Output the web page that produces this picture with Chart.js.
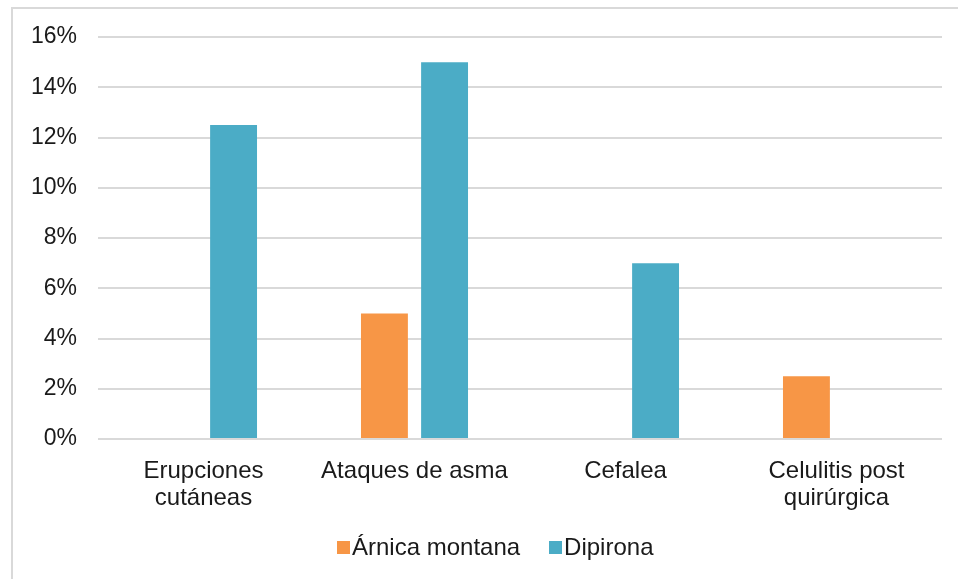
<!DOCTYPE html>
<html>
<head>
<meta charset="utf-8">
<script src="https://cdn.jsdelivr.net/npm/chart.js@4"></script>
<style>
  html, body { margin: 0; padding: 0; background: #fff; overflow: hidden; }
  #wrap { position: relative; width: 958px; height: 579px; font-family: "Liberation Sans", Arial, sans-serif; }
  #frame {
    position: absolute; left: 11px; top: 7px; width: 960px; height: 600px;
    border-left: 2px solid #D9D9D9; border-top: 2px solid #D9D9D9;
    pointer-events: none;
  }
  canvas { position: absolute; left: 0; top: 0; }
  #legend { position: absolute; left: 337px; top: 533px; font-size: 24px; line-height: 28px; color: #1a1a1a; white-space: nowrap; }
  #legend span.item { display: inline-block; }
  #legend span.item + span.item { margin-left: 29px; }
  #legend i { display: inline-block; width: 13px; height: 13px; margin-right: 2px; vertical-align: 1px; }
</style>
</head>
<body>
<div id="wrap">
  <canvas id="chart" width="958" height="579"></canvas>
  <div id="frame"></div>
  <div id="legend"></div>
</div>
<script>
const categories = [
    ['Erupciones', 'cutáneas'],
    'Ataques de asma',
    'Cefalea',
    ['Celulitis post', 'quirúrgica']
];
const seriesNames = ['Árnica montana', 'Dipirona'];
const arnicaValues = [0, 5, 0, 2.5];
const dipironaValues = [12.5, 15, 7, 0];
const yTicks = [0, 2, 4, 6, 8, 10, 12, 14, 16];
const seriesColors = ['#F79646', '#4BACC6'];

const font = { family: '"Liberation Sans", Arial, sans-serif', size: 24, lineHeight: 1.13 };
const yFont = { family: '"Liberation Sans", Arial, sans-serif', size: 23 };
const textColor = '#1a1a1a';
const gridColor = '#D9D9D9';

const chart = new Chart(document.getElementById('chart').getContext('2d'), {
    type: 'bar',
    data: {
        labels: categories,
        datasets: [
            {
                label: seriesNames[0],
                data: arnicaValues,
                backgroundColor: seriesColors[0],
                barPercentage: 0.78,
                categoryPercentage: 0.57,
            },
            {
                label: seriesNames[1],
                data: dipironaValues,
                backgroundColor: seriesColors[1],
                barPercentage: 0.78,
                categoryPercentage: 0.57,
            }
        ]
    },
    options: {
        responsive: false,
        animation: false,
        layout: { padding: { top: 37, right: 16, bottom: 55, left: 0 } },
        scales: {
            x: {
                grid: { display: false },
                border: { display: false },
                ticks: { color: textColor, font, padding: 11, maxRotation: 0, autoSkip: false },
                afterFit: scale => { scale.height = 85; }
            },
            y: {
                min: 0,
                max: 16,
                afterBuildTicks: scale => { scale.ticks = yTicks.map(v => ({ value: v })); },
                grid: { color: gridColor, lineWidth: 2, drawTicks: false },
                border: { display: false },
                ticks: { color: textColor, font: yFont, padding: 21, callback: v => v + '%' },
                afterFit: scale => { scale.width = 98; scale.paddingTop = 0; }
            }
        },
        plugins: {
            legend: { display: false },
            tooltip: { enabled: false }
        }
    }
});

// legend as plain html, built from the datasets
document.getElementById('legend').innerHTML = chart.data.datasets
    .map(ds => `<span class="item"><i style="background:${ds.backgroundColor}"></i>${ds.label}</span>`)
    .join('');
</script>
</body>
</html>
